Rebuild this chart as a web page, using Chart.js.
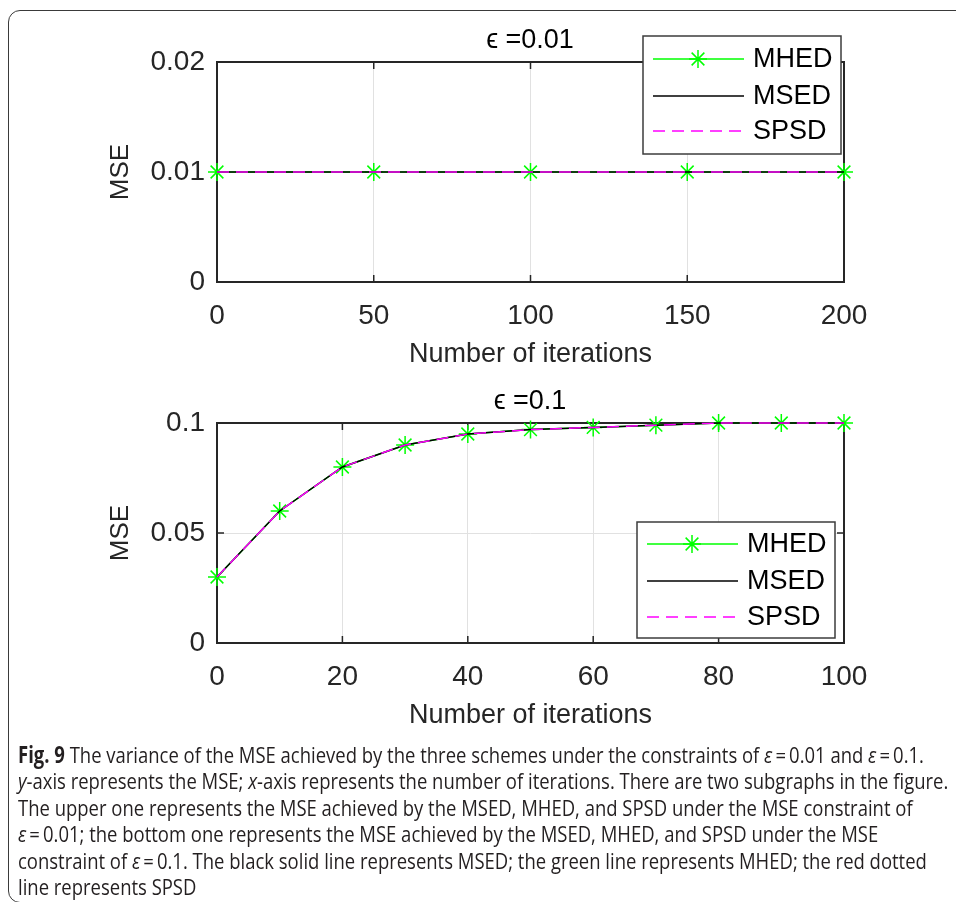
<!DOCTYPE html>
<html>
<head>
<meta charset="utf-8">
<title>Fig. 9 MSE</title>
<script src="https://cdn.jsdelivr.net/npm/chart.js@4.4.1/dist/chart.umd.min.js"></script>
<style>
  html, body { margin: 0; padding: 0; background: #fff; }
  body { width: 956px; height: 902px; position: relative; overflow: hidden; }
  #frame {
    position: absolute; left: 8px; top: 10px; width: 1000px; height: 893px;
    border: 1.5px solid #3a3a3a; border-radius: 12px; box-sizing: border-box;
  }
  .plot { position: absolute; left: 0; }
  #topPlot { top: 0; }
  #bottomPlot { top: 361px; }
  #caption {
    position: absolute; left: 18px; top: 742px;
    font-family: "Open Sans", "Noto Sans", sans-serif; font-size: 22.5px;
    line-height: 26.4px; color: #231f20;
  }
  #caption div { white-space: nowrap; transform-origin: 0 50%; }
</style>
</head>
<body>
<div id="frame"></div>
<canvas id="topPlot" class="plot" width="1060" height="390"></canvas>
<canvas id="bottomPlot" class="plot" width="1060" height="390"></canvas>
<div id="caption">
  <div><b>Fig. 9</b> The variance of the MSE achieved by the three schemes under the constraints of <i>ε</i>&#8201;=&#8201;0.01 and <i>ε</i>&#8201;=&#8201;0.1.</div>
  <div><i>y</i>-axis represents the MSE; <i>x</i>-axis represents the number of iterations. There are two subgraphs in the figure.</div>
  <div>The upper one represents the MSE achieved by the MSED, MHED, and SPSD under the MSE constraint of</div>
  <div><i>ε</i>&#8201;=&#8201;0.01; the bottom one represents the MSE achieved by the MSED, MHED, and SPSD under the MSE</div>
  <div>constraint of <i>ε</i>&#8201;=&#8201;0.1. The black solid line represents MSED; the green line represents MHED; the red dotted</div>
  <div>line represents SPSD</div>
</div>
<script>
'use strict';
/*---------------------------------*/
/*--------------Data---------------*/
/*---------------------------------*/
let seriesNames = ['MHED', 'MSED', 'SPSD'];

// upper subgraph, epsilon = 0.01
let topIterations = [0, 50, 100, 150, 200];
let topMHED = [0.01, 0.01, 0.01, 0.01, 0.01];
let topMSED = [0.01, 0.01, 0.01, 0.01, 0.01];
let topSPSD = [0.01, 0.01, 0.01, 0.01, 0.01];
let topXTicks = [0, 50, 100, 150, 200];
let topYTicks = [0, 0.01, 0.02];

// bottom subgraph, epsilon = 0.1
let bottomIterations = [0, 10, 20, 30, 40, 50, 60, 70, 80, 90, 100];
let bottomMHED = [0.03, 0.06, 0.08, 0.09, 0.095, 0.097, 0.098, 0.099, 0.1, 0.1, 0.1];
let bottomMSED = [0.03, 0.06, 0.08, 0.09, 0.095, 0.097, 0.098, 0.099, 0.1, 0.1, 0.1];
let bottomSPSD = [0.03, 0.06, 0.08, 0.09, 0.095, 0.097, 0.098, 0.099, 0.1, 0.1, 0.1];
let bottomXTicks = [0, 20, 40, 60, 80, 100];
let bottomYTicks = [0, 0.05, 0.1];

/*---------------------------------*/
/*-------------Plugins-------------*/
/*---------------------------------*/
const FONT = '"Liberation Sans", Arial, sans-serif';
const AXIS_COLOR = '#262626';

function drawStar(ctx, x, y, r) {
  let d = r * Math.SQRT1_2;
  ctx.beginPath();
  ctx.moveTo(x, y - r); ctx.lineTo(x, y + r);
  ctx.moveTo(x - r, y); ctx.lineTo(x + r, y);
  ctx.moveTo(x - d, y - d); ctx.lineTo(x + d, y + d);
  ctx.moveTo(x - d, y + d); ctx.lineTo(x + d, y - d);
  ctx.stroke();
}

// MATLAB style box with inward ticks
const boxPlugin = {
  id: 'matlabBox',
  beforeDatasetsDraw(chart) {
    const {ctx, chartArea: a, scales} = chart;
    ctx.save();
    ctx.strokeStyle = AXIS_COLOR;
    ctx.lineWidth = 1.5;
    ctx.beginPath();
    scales.x.ticks.forEach(t => {
      let px = scales.x.getPixelForValue(t.value);
      ctx.moveTo(px, a.bottom); ctx.lineTo(px, a.bottom - 7);
      ctx.moveTo(px, a.top); ctx.lineTo(px, a.top + 7);
    });
    scales.y.ticks.forEach(t => {
      let py = scales.y.getPixelForValue(t.value);
      ctx.moveTo(a.left, py); ctx.lineTo(a.left + 7, py);
      ctx.moveTo(a.right, py); ctx.lineTo(a.right - 7, py);
    });
    ctx.stroke();
    ctx.lineWidth = 2;
    ctx.strokeRect(a.left, a.top, a.width, a.height);
    ctx.restore();
  }
};

// legend box placed inside / over the axes like MATLAB
const boxLegendPlugin = {
  id: 'boxLegend',
  afterDraw(chart, args, opts) {
    const {ctx, chartArea: a} = chart;
    let left = a.right - opts.fromRight;
    let top = opts.fromTop !== undefined ? a.top + opts.fromTop : a.bottom - opts.fromBottom;
    ctx.save();
    ctx.fillStyle = '#fff';
    ctx.fillRect(left, top, opts.width, opts.height);
    ctx.strokeStyle = '#3c3c3c';
    ctx.lineWidth = 1.5;
    ctx.strokeRect(left, top, opts.width, opts.height);
    chart.data.datasets.forEach((d, i) => {
      let y = top + opts.rows[i];
      ctx.strokeStyle = d.borderColor;
      ctx.lineWidth = d.borderWidth;
      ctx.setLineDash(d.borderDash || []);
      ctx.beginPath();
      ctx.moveTo(left + 10, y);
      ctx.lineTo(left + 101, y);
      ctx.stroke();
      ctx.setLineDash([]);
      if (d.pointStyle === 'star') {
        ctx.lineWidth = d.pointBorderWidth;
        drawStar(ctx, left + 55, y, d.pointRadius);
      }
      ctx.fillStyle = '#000';
      ctx.font = '27px ' + FONT;
      ctx.textBaseline = 'middle';
      ctx.fillText(d.label, left + 110, y + 1);
    });
    ctx.restore();
  }
};

/*---------------------------------*/
/*-----------Chart Build-----------*/
/*---------------------------------*/
function toPoints(xs, ys) {
  return xs.map((x, i) => ({x: x, y: ys[i]}));
}

function buildChart(canvasId, cfg) {
  const data = {
    datasets: [
      {
        label: seriesNames[0],
        data: toPoints(cfg.x, cfg.mhed),
        borderColor: '#00ff00',
        backgroundColor: '#00ff00',
        borderWidth: 1.5,
        pointStyle: 'star',
        pointRadius: 9,
        pointBorderWidth: 1.5,
        pointBorderColor: '#00ff00',
        order: 3,
        clip: false,
      },
      {
        label: seriesNames[1],
        data: toPoints(cfg.x, cfg.msed),
        borderColor: '#000000',
        borderWidth: 1.5,
        pointRadius: 0,
        order: 2,
        clip: false,
      },
      {
        label: seriesNames[2],
        data: toPoints(cfg.x, cfg.spsd),
        borderColor: '#ff00ff',
        borderWidth: 1.5,
        borderDash: [12, 7],
        pointRadius: 0,
        order: 1,
        clip: false,
      },
    ],
  };

  const config = {
    type: 'line',
    data: data,
    plugins: [boxPlugin, boxLegendPlugin],
    options: {
      responsive: false,
      animation: false,
      devicePixelRatio: 1,
      layout: {padding: {top: 24, right: 0, left: 0, bottom: 0}},
      plugins: {
        legend: {display: false},
        tooltip: {enabled: false},
        title: {
          display: true,
          text: cfg.title,
          color: '#000',
          font: {family: FONT, size: 27, weight: 'normal'},
          padding: {top: 0, bottom: 5.6},
        },
        boxLegend: cfg.legend,
      },
      scales: {
        x: {
          type: 'linear',
          min: cfg.xTicks[0],
          max: cfg.xTicks[cfg.xTicks.length - 1],
          afterBuildTicks: s => { s.ticks = cfg.xTicks.map(v => ({value: v})); },
          afterFit: s => { s.height = 108; },
          ticks: {
            color: AXIS_COLOR,
            font: {family: FONT, size: 28},
            padding: 17,
            maxRotation: 0,
            autoSkip: false,
          },
          grid: {color: '#e1e1e1', lineWidth: 1, drawTicks: false},
          border: {display: false},
          title: {
            display: true,
            text: 'Number of iterations',
            color: AXIS_COLOR,
            font: {family: FONT, size: 27},
            padding: {top: 0, bottom: 19},
          },
        },
        y: {
          min: cfg.yTicks[0],
          max: cfg.yTicks[cfg.yTicks.length - 1],
          afterBuildTicks: s => { s.ticks = cfg.yTicks.map(v => ({value: v})); },
          afterFit: s => { s.width = 217; },
          ticks: {
            color: AXIS_COLOR,
            font: {family: FONT, size: 28},
            padding: 12,
            callback: v => String(v),
          },
          grid: {color: '#e1e1e1', lineWidth: 1, drawTicks: false},
          border: {display: false},
          title: {
            display: true,
            text: 'MSE',
            color: AXIS_COLOR,
            font: {family: FONT, size: 26},
            padding: {top: 105, bottom: 0},
          },
        },
        // empty right-hand axis so the title centres over the plot box
        yRight: {
          position: 'right',
          display: true,
          afterFit: s => { s.width = 216; },
          ticks: {display: false},
          grid: {display: false},
          border: {display: false},
        },
      },
    },
  };
  return new Chart(document.getElementById(canvasId), config);
}

buildChart('topPlot', {
  title: '\u03f5 =0.01',
  x: topIterations, mhed: topMHED, msed: topMSED, spsd: topSPSD,
  xTicks: topXTicks, yTicks: topYTicks,
  legend: {fromRight: 201, fromTop: -26, width: 198, height: 118, rows: [23, 60, 95]},
});

buildChart('bottomPlot', {
  title: '\u03f5 =0.1',
  x: bottomIterations, mhed: bottomMHED, msed: bottomMSED, spsd: bottomSPSD,
  xTicks: bottomXTicks, yTicks: bottomYTicks,
  legend: {fromRight: 207, fromBottom: 121, width: 198, height: 116, rows: [22, 59, 95]},
});

/*---------------------------------*/
/*-------------Caption-------------*/
/*---------------------------------*/
let captionLines = document.querySelectorAll('#caption div');
let captionScale = 930 / captionLines[0].scrollWidth;
captionLines.forEach(line => { line.style.transform = 'scaleX(' + captionScale + ')'; });
</script>
</body>
</html>
